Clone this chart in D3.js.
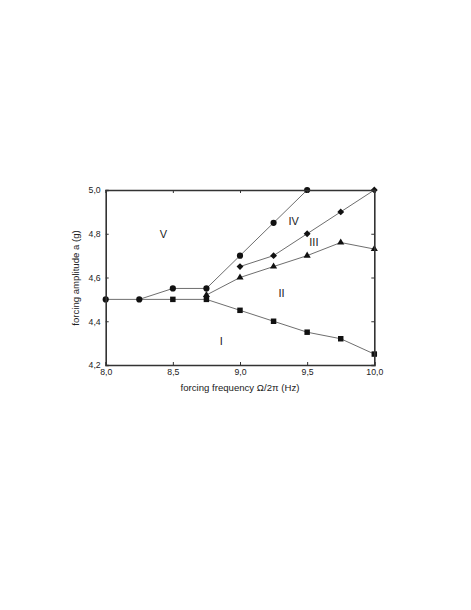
<!DOCTYPE html>
<html>
<head>
<meta charset="utf-8">
<script src="https://cdn.jsdelivr.net/npm/d3@7"></script>
<style>
  body { margin: 0; background: #fff; }
  text { font-family: "Liberation Sans", Arial, sans-serif; fill: #222; }
</style>
</head>
<body>
<div id="graph"></div>
<script>
// boundaries between regimes I..V
var circleX = [8.0, 8.25, 8.5, 8.75, 9.0, 9.25, 9.5]
var circleY = [4.5, 4.5, 4.55, 4.55, 4.7, 4.85, 5.0]
var squareX = [8.5, 8.75, 9.0, 9.25, 9.5, 9.75, 10.0]
var squareY = [4.5, 4.5, 4.45, 4.4, 4.35, 4.32, 4.25]
var triangleX = [8.75, 9.0, 9.25, 9.5, 9.75, 10.0]
var triangleY = [4.52, 4.6, 4.65, 4.7, 4.76, 4.73]
var diamondX = [9.0, 9.25, 9.5, 9.75, 10.0]
var diamondY = [4.65, 4.7, 4.8, 4.9, 5.0]
// lower boundary branches off the circle curve at 8.25
var squareBranch = [8.25, 4.5]

var xTicks = [8.0, 8.5, 9.0, 9.5, 10.0]
var yTicks = [4.2, 4.4, 4.6, 4.8, 5.0]

var regionNames = ['I', 'II', 'III', 'IV', 'V']
var regionX = [8.86, 9.31, 9.55, 9.4, 8.43]
var regionY = [4.31, 4.53, 4.76, 4.86, 4.8]

var fmt = function(d) { return d3.format('.1f')(d).replace('.', ',') }

var svg = d3.select('#graph').append('svg')
  .attr('width', 471)
  .attr('height', 610)

var x = d3.scaleLinear().domain([8, 10]).range([105.7, 374.3])
var y = d3.scaleLinear().domain([4.2, 5.0]).range([365, 190])

var zip = (xs, ys) => xs.map((v, i) => [v, ys[i]])
var line = d3.line().x(d => x(d[0])).y(d => y(d[1]))

var series = [
  { pts: zip(circleX, circleY), lead: [], sym: d3.symbolCircle, size: 30 },
  { pts: zip(squareX, squareY), lead: [squareBranch], sym: d3.symbolSquare, size: 30 },
  { pts: zip(triangleX, triangleY), lead: [], sym: d3.symbolTriangle, size: 22 },
  { pts: zip(diamondX, diamondY), lead: [], sym: d3.symbolDiamond2, size: 30 }
]

var g = svg.append('g')

g.selectAll('.curve')
  .data(series)
  .join('path')
  .attr('class', 'curve')
  .attr('d', s => line(s.lead.concat(s.pts)))
  .attr('fill', 'none')
  .attr('stroke', '#6e6e6e')
  .attr('stroke-width', 1)

// frame with inward ticks on all sides
var frame = svg.append('g')
frame.append('g').attr('transform', 'translate(0,365)')
  .call(d3.axisBottom(x).tickValues(xTicks).tickSize(-3).tickFormat(fmt).tickPadding(4))
frame.append('g').attr('transform', 'translate(0,190)')
  .call(d3.axisTop(x).tickValues(xTicks).tickSize(-3).tickFormat(''))
frame.append('g').attr('transform', 'translate(105.7,0)')
  .call(d3.axisLeft(y).tickValues(yTicks).tickSize(-3).tickFormat(fmt).tickPadding(5))
frame.append('g').attr('transform', 'translate(374.3,0)')
  .call(d3.axisRight(y).tickValues(yTicks).tickSize(-3).tickFormat(''))

frame.selectAll('.domain').attr('stroke', '#333').attr('stroke-width', 1.6)
frame.selectAll('.tick line').attr('stroke', '#333')
frame.selectAll('.tick text').attr('font-size', '8.7px').attr('font-family', '"Liberation Sans", Arial, sans-serif').attr('fill', '#222')

series.forEach(function(s) {
  g.append('g').selectAll('path')
    .data(s.pts)
    .join('path')
    .attr('transform', d => 'translate(' + x(d[0]) + ',' + y(d[1]) + ')')
    .attr('d', d3.symbol().type(s.sym).size(s.size))
    .attr('fill', '#111')
})

svg.append('g').selectAll('text')
  .data(regionNames)
  .join('text')
  .attr('x', (d, i) => x(regionX[i]))
  .attr('y', (d, i) => y(regionY[i]))
  .attr('dy', '0.36em')
  .attr('text-anchor', 'middle')
  .attr('font-size', '11px')
  .text(d => d)

svg.append('text')
  .attr('x', 240)
  .attr('y', 391)
  .attr('text-anchor', 'middle')
  .attr('font-size', '9.6px')
  .text('forcing frequency \u03A9/2\u03C0 (Hz)')

svg.append('text')
  .attr('transform', 'translate(79,278) rotate(-90)')
  .attr('text-anchor', 'middle')
  .attr('font-size', '9.6px')
  .text('forcing amplitude a (g)')
</script>
</body>
</html>
